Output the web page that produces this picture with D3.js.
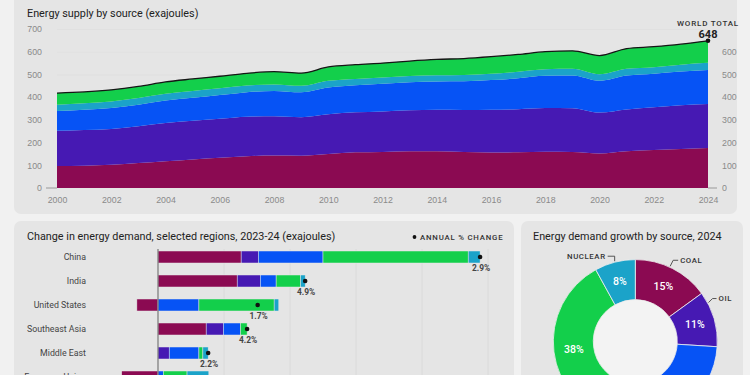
<!DOCTYPE html>
<html>
<head>
<meta charset="utf-8">
<script src="https://cdn.jsdelivr.net/npm/d3@7"></script>
<style>
  html, body { margin: 0; padding: 0; background: #f1f1f1; }
  svg { display: block; font-family: Roboto, "Noto Sans", sans-serif; }
</style>
</head>
<body>
<svg id="chart" width="750" height="375"></svg>
<script>
// top chart: world energy supply, exajoules
var years = [2000, 2001, 2002, 2003, 2004, 2005, 2006, 2007, 2008, 2009, 2010, 2011, 2012,
             2013, 2014, 2015, 2016, 2017, 2018, 2019, 2020, 2021, 2022, 2023, 2024];
var coal = [97, 98, 102, 110, 118, 126, 133, 140, 143, 142, 150, 157, 159,
            162, 162, 158, 156, 157, 160, 158, 152, 162, 167, 172, 176];
var oil = [155, 157, 158, 162, 168, 170, 172, 174, 173, 170, 175, 176, 178,
           180, 182, 185, 188, 190, 192, 193, 180, 184, 188, 192, 194];
var gas = [87, 89, 92, 95, 99, 101, 104, 108, 111, 109, 117, 119, 122,
           124, 125, 127, 131, 136, 142, 144, 140, 149, 148, 149, 150];
var nuclear = [28, 29, 29, 29, 30, 30, 30, 29, 29, 29, 30, 28, 27,
               27, 27, 28, 28, 29, 29, 30, 29, 30, 29, 30, 31];
var renewables = [51, 50, 51, 51, 52, 53, 53, 54, 56, 56, 61, 63, 64,
                  66, 70, 72, 75, 76, 77, 79, 82, 89, 90, 90, 97];
var yTicks = [0, 100, 200, 300, 400, 500, 600, 700];
var yTicksRight = [0, 100, 200, 300, 400, 500, 600];
var xTicks = [2000, 2002, 2004, 2006, 2008, 2010, 2012, 2014, 2016, 2018, 2020, 2022, 2024];

// bottom left: change in demand 2023-24, exajoules
var regions = ["China", "India", "United States", "Southeast Asia", "Middle East", "European Union"];
var dCoal = [1.26, 1.20, -0.32, 0.73, 0, -0.55];
var dOil = [0.26, 0.35, 0, 0.26, 0.17, 0];
var dGas = [0.98, 0.24, 0.62, 0.26, 0.45, 0.08];
var dRenew = [2.20, 0.37, 1.14, 0.10, 0.06, 0.36];
var dNuclear = [0.18, 0.07, 0.07, 0, 0.08, 0.33];
var pctChange = ["2.9%", "4.9%", "1.7%", "4.2%", "2.2%", null];
var barTicks = [1, 2, 3, 4, 5];

// bottom right: share of demand growth by source, 2024
var sources = ["Coal", "Oil", "Gas", "Renewables", "Nuclear"];
var growthShare = [15, 11, 28, 38, 8];

var colors = {
  Coal: "#8b0a52", Oil: "#4619b3", Gas: "#0653f5",
  Nuclear: "#1ba3c9", Renewables: "#13cf4b"
};

var svg = d3.select("#chart");

// panels
svg.append("rect").attr("x", 14).attr("y", -8).attr("width", 723).attr("height", 222)
  .attr("rx", 7).attr("fill", "#e5e5e5");
svg.append("rect").attr("x", 14).attr("y", 221).attr("width", 500).attr("height", 170)
  .attr("rx", 7).attr("fill", "#e5e5e5");
svg.append("rect").attr("x", 521).attr("y", 221).attr("width", 222).attr("height", 170)
  .attr("rx", 7).attr("fill", "#e5e5e5");

/* ---------- top: stacked area ---------- */
var x = d3.scaleLinear().domain([2000, 2024]).range([57, 708]);
var y = d3.scaleLinear().domain([0, 700]).range([188, 29]);

var table = years.map(function(yr, i) {
  return { year: yr, Coal: coal[i], Oil: oil[i], Gas: gas[i], Nuclear: nuclear[i], Renewables: renewables[i] };
});
var areaKeys = ["Coal", "Oil", "Gas", "Nuclear", "Renewables"];
var series = d3.stack().keys(areaKeys)(table);

var supply = svg.append("g");

supply.append("text").attr("x", 27).attr("y", 17)
  .attr("font-size", 10.8).attr("fill", "#222")
  .text("Energy supply by source (exajoules)");

supply.append("g").selectAll("line").data(yTicks.slice(1)).enter().append("line")
  .attr("x1", 57).attr("x2", 708)
  .attr("y1", function(d) { return y(d) + 0.5; })
  .attr("y2", function(d) { return y(d) + 0.5; })
  .attr("stroke", "#dedede").attr("stroke-width", 0.7);

var area = d3.area()
  .x(function(d) { return x(d.data.year); })
  .y0(function(d) { return y(d[0]); })
  .y1(function(d) { return y(d[1]); })
  .curve(d3.curveMonotoneX);

supply.append("g").selectAll("path").data(series).enter().append("path")
  .attr("d", area)
  .attr("fill", function(d) { return colors[d.key]; });

var totalLine = d3.line()
  .x(function(d) { return x(d.data.year); })
  .y(function(d) { return y(d[1]); })
  .curve(d3.curveMonotoneX);

supply.append("path").datum(series[series.length - 1])
  .attr("d", totalLine).attr("fill", "none")
  .attr("stroke", "#151515").attr("stroke-width", 1.3);

var last = series[series.length - 1][years.length - 1];
supply.append("circle").attr("cx", x(last.data.year)).attr("cy", y(last[1]))
  .attr("r", 2.3).attr("fill", "#111");
supply.append("text").attr("x", x(last.data.year)).attr("y", 25.6)
  .attr("text-anchor", "middle").attr("font-size", 8).attr("font-weight", 500)
  .attr("letter-spacing", 0.8).attr("fill", "#333")
  .text("WORLD TOTAL");
supply.append("text").attr("x", x(last.data.year)).attr("y", 38)
  .attr("text-anchor", "middle").attr("font-size", 11).attr("font-weight", 700)
  .attr("fill", "#222")
  .text(d3.format(".0f")(last[1]));

var yLeft = supply.append("g").attr("transform", "translate(57,0)")
  .call(d3.axisLeft(y).tickValues(yTicks).tickSize(0).tickPadding(15));
var yRight = supply.append("g").attr("transform", "translate(708,0)")
  .call(d3.axisRight(y).tickValues(yTicksRight).tickSize(0).tickPadding(14));
[yLeft, yRight].forEach(function(a) {
  a.select(".domain").remove();
  a.selectAll("text").attr("font-size", 8.8).attr("fill", "#8a8a8a").attr("font-family", null);
});
supply.append("line").attr("x1", 46).attr("x2", 57).attr("y1", y(0)).attr("y2", y(0))
  .attr("stroke", "#999").attr("stroke-width", 1);
supply.append("line").attr("x1", 708).attr("x2", 717).attr("y1", y(0)).attr("y2", y(0))
  .attr("stroke", "#999").attr("stroke-width", 1);

var xAxis = supply.append("g").attr("transform", "translate(0,188)")
  .call(d3.axisBottom(x).tickValues(xTicks).tickFormat(d3.format("d")).tickSize(0).tickPadding(9));
xAxis.select(".domain").remove();
xAxis.selectAll("text").attr("font-size", 8.8).attr("fill", "#8a8a8a").attr("font-family", null);

/* ---------- bottom left: grouped change bars ---------- */
var bx = d3.scaleLinear().domain([0, 5]).range([158, 488]);
var by = d3.scaleBand().domain(regions).range([245, 389]).paddingInner(0.5).paddingOuter(0.25);

var bars = svg.append("g");

bars.append("text").attr("x", 27).attr("y", 240)
  .attr("font-size", 10.8).attr("fill", "#222")
  .text("Change in energy demand, selected regions, 2023-24 (exajoules)");

bars.append("circle").attr("cx", 414.5).attr("cy", 237).attr("r", 1.9).attr("fill", "#111");
bars.append("text").attr("x", 420).attr("y", 239.8)
  .attr("font-size", 7.8).attr("font-weight", 500).attr("letter-spacing", 0.8).attr("fill", "#333")
  .text("ANNUAL % CHANGE");

bars.append("g").selectAll("line").data(barTicks).enter().append("line")
  .attr("x1", function(d) { return bx(d); }).attr("x2", function(d) { return bx(d); })
  .attr("y1", 249).attr("y2", 380)
  .attr("stroke", "#d8d8d8").attr("stroke-width", 0.8);

var barKeys = ["Coal", "Oil", "Gas", "Renewables", "Nuclear"];
var barData = regions.map(function(r, i) {
  var vals = { Coal: dCoal[i], Oil: dOil[i], Gas: dGas[i], Renewables: dRenew[i], Nuclear: dNuclear[i] };
  var pos = 0, neg = 0, segs = [];
  barKeys.forEach(function(k) {
    var v = vals[k];
    if (v > 0) { segs.push({ key: k, x0: pos, x1: pos + v }); pos += v; }
    else if (v < 0) { segs.push({ key: k, x0: neg + v, x1: neg }); neg += v; }
  });
  return { region: r, segs: segs, net: pos + neg, pct: pctChange[i] };
});

var rows = bars.append("g").selectAll("g").data(barData).enter().append("g")
  .attr("transform", function(d) { return "translate(0," + by(d.region) + ")"; });

rows.selectAll("rect").data(function(d) { return d.segs; }).enter().append("rect")
  .attr("x", function(d) { return bx(d.x0); })
  .attr("width", function(d) { return bx(d.x1) - bx(d.x0); })
  .attr("height", by.bandwidth())
  .attr("fill", function(d) { return colors[d.key]; })
  .attr("stroke", "#e5e5e5").attr("stroke-width", 0.5);

rows.append("text").attr("x", 86).attr("y", by.bandwidth() / 2 + 3)
  .attr("text-anchor", "end").attr("font-size", 8.8).attr("fill", "#444")
  .text(function(d) { return d.region; });

var dotRows = rows.filter(function(d) { return d.pct; });
dotRows.append("circle")
  .attr("cx", function(d) { return bx(d.net); }).attr("cy", by.bandwidth() / 2)
  .attr("r", 2.3).attr("fill", "#111");
dotRows.append("text")
  .attr("x", function(d) { return bx(d.net) + 1; }).attr("y", by.bandwidth() / 2 + 14)
  .attr("text-anchor", "middle").attr("font-size", 8.4).attr("font-weight", 700).attr("fill", "#444")
  .text(function(d) { return d.pct; });

bars.append("line").attr("x1", bx(0)).attr("x2", bx(0)).attr("y1", 249).attr("y2", 380)
  .attr("stroke", "#777").attr("stroke-width", 1.2);

/* ---------- bottom right: donut ---------- */
var cx = 635.3, cy = 341.6, rOuter = 82, rInner = 42;
var pieData = d3.pie().sort(null).value(function(d) { return d.value; })(
  sources.map(function(s, i) { return { key: s, value: growthShare[i] }; }));
var arc = d3.arc().innerRadius(rInner).outerRadius(rOuter);
var labelArc = d3.arc().innerRadius(62).outerRadius(62);

var donut = svg.append("g");
donut.append("text").attr("x", 533).attr("y", 240)
  .attr("font-size", 10.8).attr("fill", "#222")
  .text("Energy demand growth by source, 2024");

var dg = donut.append("g").attr("transform", "translate(" + cx + "," + cy + ")");
dg.append("circle").attr("r", rInner).attr("fill", "#f3f3f3");
dg.selectAll("path").data(pieData).enter().append("path")
  .attr("d", arc)
  .attr("fill", function(d) { return colors[d.data.key]; })
  .attr("stroke", "#eeeeee").attr("stroke-width", 0.8);
dg.selectAll("text.pct").data(pieData).enter().append("text")
  .attr("class", "pct")
  .attr("transform", function(d) { return "translate(" + labelArc.centroid(d) + ")"; })
  .attr("text-anchor", "middle").attr("dy", "0.35em")
  .attr("font-size", 10.5).attr("font-weight", 500).attr("fill", "#fff")
  .text(function(d) { return d.data.value + "%"; });

// outside name labels with small leader lines
var callouts = [
  { key: "Coal", at: 0.46, dx: 3, dy: -6, len: 5, anchor: "start" },
  { key: "Oil", at: 0.2, dx: 4, dy: -4, len: 4, anchor: "start" },
  { key: "Nuclear", at: 0.5, dx: 0, dy: -5, len: -7, anchor: "end" }
];
callouts.forEach(function(c) {
  var p = pieData.filter(function(d) { return d.data.key === c.key; })[0];
  var a = p.startAngle + (p.endAngle - p.startAngle) * c.at;
  var x0 = Math.sin(a) * (rOuter + 1), y0 = -Math.cos(a) * (rOuter + 1);
  var x1 = x0 + c.dx, y1 = y0 + c.dy, x2 = x1 + c.len;
  dg.append("path")
    .attr("d", "M" + x0 + "," + y0 + "L" + x1 + "," + y1 + "L" + x2 + "," + y1)
    .attr("fill", "none").attr("stroke", "#444").attr("stroke-width", 0.9);
  dg.append("text").attr("x", x2 + (c.len > 0 ? 2 : -2)).attr("y", y1 + 2.8)
    .attr("text-anchor", c.anchor).attr("font-size", 7.8).attr("font-weight", 500)
    .attr("letter-spacing", 0.6).attr("fill", "#333")
    .text(c.key.toUpperCase());
});
</script>
</body>
</html>
